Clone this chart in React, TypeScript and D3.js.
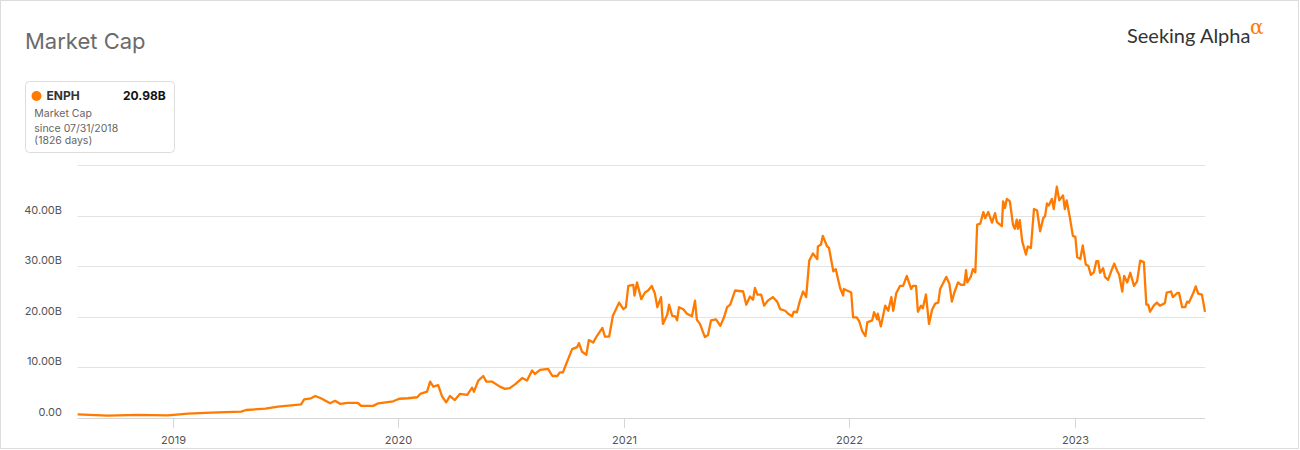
import React from "react";
import * as d3 from "d3";

// ENPH market cap (billions USD); days since 07/31/2018
const startDate = "2018-07-31";
const endDays = 1826;
const days: number[] = [
  0, 49, 98, 146, 179, 216, 265, 273, 304, 325, 346, 362, 367, 378, 385, 394, 409, 417, 425, 438,
  454, 459, 479, 487, 511, 521, 535, 550, 555, 566, 571, 576, 584, 590, 597, 603, 611, 619, 631, 639,
  642, 649, 657, 662, 671, 684, 692, 700, 709, 720, 728, 736, 741, 749, 762, 769, 777, 781, 786, 794,
  801, 809, 812, 817, 824, 828, 835, 841, 850, 854, 861, 867, 877, 884, 888, 892, 900, 902, 906, 913,
  919, 924, 930, 935, 939, 945, 948, 955, 958, 963, 968, 971, 974, 981, 987, 995, 1000, 1003, 1008, 1016,
  1021, 1026, 1034, 1041, 1047, 1052, 1057, 1065, 1078, 1083, 1089, 1094, 1097, 1101, 1107, 1112, 1118, 1126, 1133, 1138,
  1146, 1151, 1157, 1160, 1165, 1170, 1175, 1180, 1185, 1191, 1198, 1199, 1204, 1207, 1214, 1217, 1224, 1228, 1235, 1240,
  1241, 1253, 1256, 1262, 1266, 1271, 1276, 1279, 1287, 1290, 1295, 1296, 1301, 1308, 1313, 1318, 1321, 1326, 1332, 1337,
  1343, 1350, 1353, 1358, 1361, 1366, 1369, 1374, 1379, 1384, 1389, 1394, 1397, 1402, 1407, 1412, 1416, 1420, 1426, 1431,
  1436, 1439, 1441, 1447, 1450, 1454, 1457, 1462, 1467, 1470, 1475, 1481, 1486, 1489, 1497, 1499, 1502, 1505, 1510, 1515,
  1518, 1521, 1523, 1526, 1530, 1536, 1539, 1544, 1549, 1554, 1559, 1564, 1567, 1570, 1573, 1578, 1581, 1586, 1590, 1596,
  1599, 1602, 1607, 1612, 1616, 1619, 1624, 1628, 1633, 1637, 1641, 1646, 1650, 1653, 1656, 1661, 1664, 1669, 1675, 1679,
  1684, 1687, 1692, 1695, 1700, 1705, 1711, 1716, 1721, 1727, 1731, 1734, 1737, 1743, 1748, 1753, 1761, 1764, 1771, 1774,
  1781, 1784, 1789, 1794, 1797, 1800, 1807, 1811, 1815, 1821, 1826,
];
const marketCapB: number[] = [
  0.7, 0.45, 0.6, 0.5, 0.85, 1.05, 1.25, 1.58, 1.85, 2.25, 2.5, 2.7, 3.7, 3.9, 4.35, 3.9, 2.9, 3.4, 2.8, 3.0,
  3.0, 2.4, 2.4, 2.9, 3.3, 3.8, 3.9, 4.1, 4.75, 5.2, 7.2, 6.2, 6.5, 4.35, 3.1, 4.35, 3.55, 4.75, 4.55, 6.0,
  5.2, 7.4, 8.3, 7.2, 7.2, 6.2, 5.75, 5.9, 6.7, 7.9, 7.4, 9.4, 8.7, 9.5, 9.7, 8.3, 8.3, 9.0, 9.0, 11.5,
  13.6, 14.0, 14.8, 13.1, 12.5, 15.4, 14.9, 16.2, 17.8, 16.1, 16.1, 20.2, 22.8, 21.5, 21.9, 26.1, 26.3, 24.2, 26.8, 23.5,
  24.8, 25.2, 26.1, 24.6, 21.9, 23.9, 18.6, 20.4, 22.4, 20.2, 20.1, 19.3, 21.9, 21.5, 20.6, 20.1, 23.2, 19.4, 18.6, 16.0,
  16.4, 19.3, 19.5, 18.2, 19.9, 21.9, 22.4, 25.2, 25.0, 22.4, 24.0, 23.4, 25.7, 24.4, 24.4, 22.2, 23.2, 23.9, 23.0, 21.5,
  21.2, 20.6, 20.1, 21.0, 20.9, 23.2, 25.0, 23.9, 31.1, 32.5, 31.4, 33.9, 34.3, 36.0, 33.9, 33.6, 29.0, 29.4, 25.7, 24.2,
  25.5, 24.8, 19.9, 19.9, 19.1, 17.1, 16.2, 18.9, 19.3, 20.9, 19.5, 20.6, 18.1, 22.2, 21.2, 23.9, 21.2, 24.7, 26.1, 26.1,
  28.1, 25.5, 26.1, 26.1, 21.0, 22.2, 21.7, 24.4, 18.6, 21.4, 22.6, 22.8, 25.5, 26.7, 27.9, 26.5, 23.0, 24.8, 26.8, 26.3,
  26.3, 29.2, 26.8, 28.0, 29.4, 28.8, 38.2, 38.4, 40.7, 39.5, 40.7, 38.6, 40.5, 38.7, 37.9, 42.8, 41.5, 43.3, 42.8, 38.2,
  37.4, 39.2, 37.4, 39.1, 34.9, 32.3, 33.9, 33.6, 41.3, 41.0, 36.9, 39.5, 39.9, 42.4, 42.0, 43.3, 41.3, 45.7, 43.0, 44.0,
  41.3, 43.0, 39.7, 36.0, 35.8, 31.8, 31.4, 34.1, 30.3, 30.1, 28.3, 28.8, 31.0, 31.0, 28.7, 29.6, 27.9, 27.3, 29.3, 30.5,
  29.0, 28.3, 25.0, 28.1, 26.8, 28.7, 26.1, 27.0, 31.1, 30.8, 22.4, 22.4, 21.0, 22.2, 22.8, 22.2, 22.7, 24.8, 25.0, 23.9,
  24.7, 24.7, 21.9, 21.9, 23.0, 22.8, 24.7, 26.0, 24.6, 24.4, 20.98,
];
const yTicks: number[] = [0, 10, 20, 30, 40, 50];
const yTickLabels: string[] = ["0.00", "10.00B", "20.00B", "30.00B", "40.00B", ""];
const xTickYears: number[] = [2019, 2020, 2021, 2022, 2023];

const ticker = "ENPH";
const lastValue = "20.98B";
const ORANGE = "#ff7a00";
const FONT = "Inter, 'Noto Sans', sans-serif";

export default function App() {
  const W = 1300;
  const H = 450;
  const start = new Date(startDate + "T00:00:00Z");
  const end = d3.utcDay.offset(start, endDays);
  const x = d3.scaleUtc().domain([start, end]).range([77.6, 1205]);
  const y = d3.scaleLinear().domain([0, 50]).range([418, 165]);

  const pts = days.map((d, i) => ({ date: d3.utcDay.offset(start, d), v: marketCapB[i] }));
  const line = d3
    .line<{ date: Date; v: number }>()
    .x((p) => x(p.date))
    .y((p) => y(p.v));

  const [x0, x1] = x.range();

  return (
    <svg
      width={W}
      height={H}
      style={{ position: "absolute", left: 0, top: 0, background: "#fff" }}
      fontFamily={FONT}
    >
      <rect x={0.5} y={0.5} width={1298} height={448} fill="#fff" stroke="#dcdcdc" />

      <text x={25} y={49} fontSize={22} fill="#6b6b6b">
        Market Cap
      </text>

      {/* Logo */}
      <text x={1127} y={43} fontSize={20} fill="#333" fontFamily="Lato, 'Open Sans', sans-serif">
        Seeking Alpha
      </text>
      <text x={1250} y={34} fontSize={20} fill={ORANGE} fontFamily="'DejaVu Serif', serif">
        α
      </text>

      {/* Legend box */}
      <rect x={25.5} y={81.5} width={149} height={71} rx={4} fill="#fff" stroke="#dcdcdc" />
      <circle cx={36.5} cy={96} r={5} fill={ORANGE} />
      <text x={46.5} y={100.3} fontSize={12} fontWeight={700} fill="#333">
        {ticker}
      </text>
      <text x={165.7} y={100.3} fontSize={12} fontWeight={700} fill="#111" textAnchor="end">
        {lastValue}
      </text>
      <text x={34.3} y={117.3} fontSize={10.5} fill="#666">
        Market Cap
      </text>
      <text x={34.3} y={132.3} fontSize={10.5} fill="#666">
        since 07/31/2018
      </text>
      <text x={34.3} y={144} fontSize={10.5} fill="#666">
        (1826 days)
      </text>

      {/* Grid */}
      {yTicks.map((t) =>
        t === 0 ? null : (
          <line key={"g" + t} x1={x0} x2={x1} y1={Math.round(y(t)) + 0.5} y2={Math.round(y(t)) + 0.5} stroke="#e3e3e3" />
        )
      )}
      {yTicks.map((t, i) =>
        yTickLabels[i] ? (
          <text key={"yl" + t} x={62} y={y(t) - 2} fontSize={11} fill="#555" textAnchor="end">
            {yTickLabels[i]}
          </text>
        ) : null
      )}

      {/* X axis */}
      <line x1={x0} x2={x1} y1={418.5} y2={418.5} stroke="#d6d6d6" />
      {xTickYears.map((yr) => {
        const px = Math.round(x(new Date(Date.UTC(yr, 0, 1)))) + 0.5;
        return (
          <g key={yr}>
            <line x1={px} x2={px} y1={418.5} y2={428} stroke="#d6d6d6" />
            <text x={px} y={444} fontSize={11} fill="#555" textAnchor="middle">
              {yr}
            </text>
          </g>
        );
      })}

      <path d={line(pts) || ""} fill="none" stroke={ORANGE} strokeWidth={2.3} strokeLinejoin="round" />
    </svg>
  );
}
